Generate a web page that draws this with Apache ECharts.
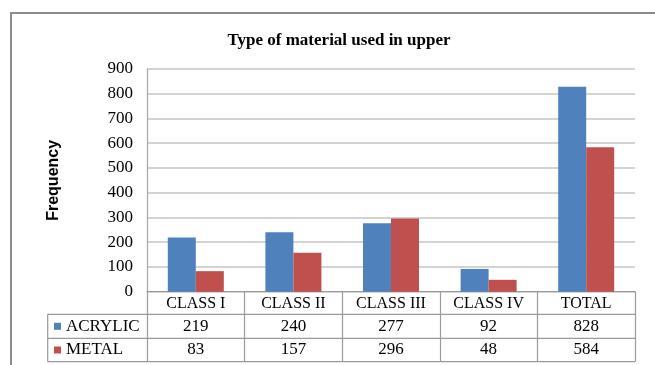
<!DOCTYPE html>
<html>
<head>
<meta charset="utf-8">
<script src="https://cdn.jsdelivr.net/npm/echarts@6/dist/echarts.min.js"></script>
<style>
  html, body { margin: 0; padding: 0; background: #fff; }
  #chart { width: 655px; height: 365px; }
</style>
</head>
<body>
<div id="chart"></div>
<script>
// Frequency of upper-denture material by class
const categories = ['CLASS I', 'CLASS II', 'CLASS III', 'CLASS IV', 'TOTAL'];
const seriesNames = ['ACRYLIC', 'METAL'];
const acrylic = [219, 240, 277, 92, 828];
const metal = [83, 157, 296, 48, 584];
const yTicks = [0, 100, 200, 300, 400, 500, 600, 700, 800, 900];

const colors = ['#4F81BD', '#C0504D'];
const serif = '"Liberation Serif", "Times New Roman", serif';

// plot area
const G = { left: 147, right: 635, top: 69, bottom: 291.7 };
// data table rows beneath the category axis
const rowLines = [314.3, 338.3, 361.7];
const tableLeft = 47.7;
const tableLine = '#9a9a9a';

const chart = echarts.init(document.getElementById('chart'));

const option = {
  animation: false,
  backgroundColor: '#fff',
  title: {
    text: 'Type of material used in upper',
    left: 334,
    top: 27,
    textAlign: 'center',
    textStyle: { fontFamily: serif, fontWeight: 'bold', fontSize: 17, color: '#000' }
  },
  grid: {
    left: G.left,
    right: 655 - G.right,
    top: G.top,
    bottom: 365 - G.bottom,
    containLabel: false
  },
  xAxis: {
    type: 'category',
    data: categories,
    axisLine: { show: true, lineStyle: { color: tableLine, width: 1.2 } },
    axisTick: { show: true, length: rowLines[2] - G.bottom, lineStyle: { color: tableLine, width: 1.2 } },
    axisLabel: {
      margin: 12,
      verticalAlign: 'middle',
      fontFamily: serif,
      fontSize: 16,
      color: '#000'
    }
  },
  yAxis: {
    type: 'value',
    min: yTicks[0],
    max: yTicks[yTicks.length - 1],
    interval: yTicks[1] - yTicks[0],
    name: 'Frequency',
    nameLocation: 'middle',
    nameGap: 85,
    nameTextStyle: { fontFamily: '"Liberation Sans", Arial, sans-serif', fontWeight: 'bold', fontSize: 16, color: '#000' },
    axisLine: { show: true, lineStyle: { color: '#a6a6a6', width: 1.2 } },
    axisTick: { show: false },
    axisLabel: {
      margin: 14,
      fontFamily: serif,
      fontSize: 17,
      color: '#000'
    },
    splitLine: { show: true, lineStyle: { color: '#c4c4c4', width: 1.6 } }
  },
  series: [
    {
      name: seriesNames[0],
      type: 'bar',
      data: acrylic,
      barWidth: 28,
      barGap: '0%',
      itemStyle: { color: colors[0] }
    },
    {
      name: seriesNames[1],
      type: 'bar',
      data: metal,
      barWidth: 28,
      barGap: '0%',
      itemStyle: { color: colors[1] }
    }
  ]
};

chart.setOption(option);

// Build the data table and outer frame once the axes are laid out
function buildTable() {
  const els = [];
  // outer chart frame
  els.push({
    type: 'rect',
    shape: { x: 11, y: 13, width: 700, height: 400 },
    style: { fill: 'none', stroke: '#8c8c8c', lineWidth: 2 },
    silent: true
  });
  // horizontal row lines
  rowLines.forEach(function (y) {
    els.push({
      type: 'line',
      shape: { x1: tableLeft, y1: y, x2: G.right, y2: y },
      style: { stroke: tableLine, lineWidth: 1.2 },
      silent: true
    });
  });
  // left edge of the legend column
  els.push({
    type: 'line',
    shape: { x1: tableLeft, y1: rowLines[0], x2: tableLeft, y2: rowLines[2] },
    style: { stroke: tableLine, lineWidth: 1.2 },
    silent: true
  });

  const rows = [acrylic, metal];
  rows.forEach(function (vals, r) {
    const cy = (rowLines[r] + rowLines[r + 1]) / 2;
    // legend key
    els.push({
      type: 'rect',
      shape: { x: 54, y: cy - 3.5, width: 7, height: 7 },
      style: { fill: colors[r] },
      silent: true
    });
    els.push({
      type: 'text',
      x: 66,
      y: cy,
      style: {
        text: seriesNames[r],
        fontFamily: serif,
        fontSize: 17,
        fill: '#000',
        align: 'left',
        verticalAlign: 'middle'
      },
      silent: true
    });
    vals.forEach(function (v, i) {
      const cx = chart.convertToPixel({ xAxisIndex: 0 }, i);
      els.push({
        type: 'text',
        x: cx,
        y: cy,
        style: {
          text: String(v),
          fontFamily: serif,
          fontSize: 17,
          fill: '#000',
          align: 'center',
          verticalAlign: 'middle'
        },
        silent: true
      });
    });
  });
  chart.setOption({ graphic: { elements: els } });
}

buildTable();
</script>
</body>
</html>
